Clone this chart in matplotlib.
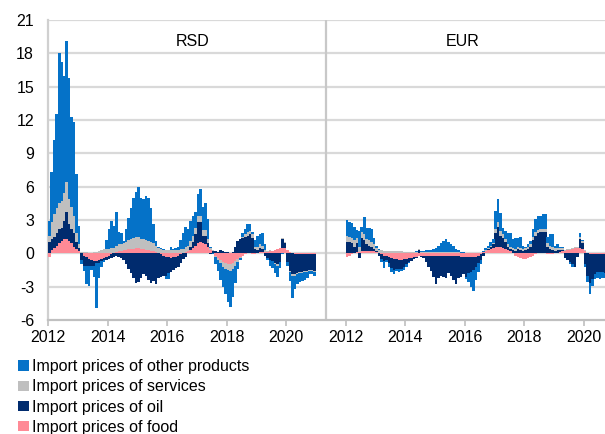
import matplotlib
matplotlib.use("Agg")
import matplotlib.pyplot as plt
import numpy as np
from matplotlib.patches import Patch

plt.rcParams["font.family"] = ["Liberation Sans", "DejaVu Sans"]

# monthly contributions, Jan 2012 onwards (pp)
rsd_food = [
    -0.3, 0.3, 0.5, 0.7, 0.9, 1.1, 1.3, 1.3, 1.1, 0.9, 0.6, 0.4,
    0.2, 0.0, -0.2, -0.3, -0.5, -0.6, -0.7, -0.7, -0.6, -0.5, -0.4, -0.3,
    -0.2, -0.1, 0.0, 0.1, 0.2, 0.2, 0.3, 0.3, 0.4, 0.4, 0.4, 0.5,
    0.5, 0.4, 0.4, 0.3, 0.3, 0.2, 0.2, 0.1, 0.0, -0.1, -0.2, -0.3,
    -0.3, -0.4, -0.3, -0.3, -0.2, -0.1, 0.0, 0.1, 0.2, 0.3, 0.5, 0.7,
    0.9, 1.0, 0.9, 0.8, 0.6, 0.3, 0.0, -0.2, -0.4, -0.6, -0.8, -0.9,
    -1.0, -1.0, -0.9, -0.7, -0.5, -0.3, -0.2, -0.1, 0.0, 0.0, -0.1, -0.1,
    0.0, 0.1, 0.1, 0.1, 0.1, 0.2, 0.2, 0.3, 0.4, 0.5, 0.5, 0.5,
    0.3, 0.1, 0.0, -0.1, -0.1, -0.1, -0.1, -0.1, -0.1, -0.1, -0.1, -0.1,
]
rsd_oil = [
    1.0, 1.0, 1.0, 1.1, 1.3, 1.2, 1.6, 2.4, 1.5, 1.3, 1.2, 0.6,
    0.3, -0.6, -0.9, -0.8, -0.6, -0.5, -0.4, -0.2, -0.3, -0.2, -0.2, -0.3,
    -0.3, -0.3, -0.3, -0.2, -0.3, -0.4, -0.6, -1.0, -1.4, -1.8, -2.2, -2.7,
    -2.6, -2.2, -1.9, -2.0, -2.4, -2.7, -2.5, -2.8, -2.2, -2.0, -1.8, -1.7,
    -1.5, -1.3, -1.2, -1.0, -1.0, -0.8, -0.5, -0.3, 0.0, 0.3, 0.5, 1.0,
    1.9, 1.8, 0.7, 0.8, 0.3, -0.1, 0.2, 0.2, 0.1, 0.3, 0.2, 0.1,
    0.1, 0.0, 0.1, 0.6, 1.1, 1.3, 1.4, 1.5, 1.6, 1.7, 1.4, 0.4,
    0.3, 0.4, 0.3, -0.2, -0.4, -0.6, -0.7, -0.9, -1.0, -0.8, 0.8, 0.4,
    -0.8, -1.6, -1.9, -1.8, -1.7, -1.6, -1.6, -1.5, -1.5, -1.4, -1.4, -1.5,
]
rsd_services = [
    0.6, 1.5, 2.0, 2.3, 2.3, 2.4, 2.5, 2.7, 2.3, 2.0, 1.6, 0.8,
    0.3, 0.1, 0.1, 0.1, 0.0, 0.0, 0.1, 0.1, 0.2, 0.3, 0.4, 0.4,
    0.4, 0.5, 0.5, 0.6, 0.6, 0.6, 0.6, 0.7, 0.8, 0.9, 1.0, 1.0,
    1.0, 0.9, 0.9, 0.9, 0.8, 0.8, 0.7, 0.6, 0.5, 0.4, 0.3, 0.3,
    0.3, 0.3, 0.3, 0.3, 0.3, 0.4, 0.4, 0.5, 0.5, 0.5, 0.6, 0.6,
    0.6, 0.6, 0.5, 0.5, 0.4, 0.2, 0.1, -0.1, -0.2, -0.3, -0.4, -0.5,
    -0.5, -0.6, -0.5, -0.4, -0.3, -0.1, 0.1, 0.2, 0.3, 0.3, 0.3, 0.2,
    0.3, 0.3, 0.3, 0.2, 0.1, 0.1, 0.0, -0.1, -0.1, 0.0, 0.1, 0.1,
    0.0, -0.1, -0.1, -0.1, -0.1, -0.1, -0.1, -0.1, -0.1, -0.1, -0.1, -0.1,
]
rsd_other = [
    1.3, 4.5, 6.7, 8.4, 13.5, 12.5, 10.6, 12.7, 10.9, 8.1, 8.4, 5.3,
    1.7, -0.4, -0.5, -1.7, -1.8, -0.4, -1.0, -4.0, -1.3, -0.5, -0.2, 0.8,
    1.8, 2.4, 2.0, 3.0, 1.1, 1.0, 0.2, 1.2, 2.0, 2.8, 3.6, 4.0,
    4.5, 3.7, 3.6, 4.0, 3.9, 3.1, 1.7, 0.4, 0.1, 0.1, 0.1, -0.3,
    -0.5, 0.3, 0.1, 0.2, 0.3, 0.8, 1.4, 1.8, 1.5, 1.8, 1.8, 1.4,
    1.9, 2.4, 2.1, 2.4, 1.8, 0.1, -0.1, -0.7, -1.0, -1.5, -1.8, -2.3,
    -2.9, -3.2, -2.5, -1.6, -0.6, -0.2, 0.3, 0.5, 0.7, 0.6, 0.2, 0.6,
    1.0, 0.9, 1.1, 0.5, -0.2, -0.5, -0.6, -0.8, -1.0, -0.5, -0.1, 0.0,
    -0.3, -0.8, -2.0, -1.2, -0.9, -0.8, -0.7, -0.7, -0.5, -0.3, -0.3, -0.3,
]

eur_food = [
    -0.3, -0.2, -0.1, 0.0, 0.1, 0.1, 0.2, 0.2, 0.2, 0.2, 0.2, 0.2,
    0.1, 0.0, -0.1, -0.2, -0.2, -0.3, -0.4, -0.5, -0.5, -0.6, -0.6, -0.5,
    -0.5, -0.4, -0.4, -0.3, -0.3, -0.2, -0.2, -0.2, -0.2, -0.2, -0.2, -0.2,
    -0.2, -0.2, -0.2, -0.2, -0.2, -0.2, -0.2, -0.2, -0.2, -0.2, -0.3, -0.3,
    -0.3, -0.3, -0.3, -0.3, -0.3, -0.2, -0.1, 0.1, 0.2, 0.3, 0.4, 0.5,
    0.6, 0.6, 0.6, 0.5, 0.4, 0.3, 0.2, 0.0, -0.2, -0.3, -0.4, -0.5,
    -0.5, -0.4, -0.3, -0.2, -0.1, 0.0, 0.0, 0.0, 0.0, -0.1, -0.1, -0.1,
    0.0, 0.0, 0.1, 0.2, 0.2, 0.3, 0.3, 0.4, 0.5, 0.5, 0.5, 0.4,
    0.2, 0.0, -0.1, -0.1, -0.1, -0.1, -0.1, -0.1, -0.1,
]
eur_oil = [
    1.0, 1.0, 0.9, 0.6, 0.8, -0.4, 1.2, 1.0, 0.6, 0.5, 0.4, 0.2,
    0.1, -0.2, -0.4, -0.5, -0.4, -0.6, -0.9, -1.0, -0.9, -0.8, -0.8, -0.7,
    -0.5, -0.4, -0.3, -0.2, -0.1, 0.3, -0.1, -0.2, -0.6, -1.0, -1.4, -1.9,
    -2.6, -2.0, -1.8, -1.9, -2.0, -1.6, -1.8, -2.2, -2.6, -2.0, -1.8, -1.6,
    -1.8, -1.5, -1.4, -1.2, -0.9, -0.7, -0.5, -0.2, 0.0, 0.1, 0.2, 0.3,
    1.2, 1.8, 1.0, 0.9, 0.6, 0.3, 0.2, 0.3, 0.2, 0.4, 0.3, 0.2,
    0.3, 0.4, 0.6, 1.2, 1.6, 1.8, 1.9, 1.9, 1.9, 0.6, 0.4, 0.3,
    0.2, 0.3, 0.2, 0.1, -0.4, -0.6, -0.8, -1.0, -1.2, -0.3, 0.8, 0.5,
    -1.0, -2.0, -2.6, -2.2, -1.8, -1.6, -1.6, -1.6, -1.7,
]
eur_services = [
    0.6, 0.5, 0.5, 0.6, 0.5, 0.5, 0.5, 0.5, 0.5, 0.5, 0.4, 0.4,
    0.3, 0.3, 0.3, 0.2, 0.2, 0.2, 0.2, 0.2, 0.2, 0.2, 0.2, 0.1,
    0.1, 0.1, 0.1, 0.1, 0.1, 0.1, 0.1, 0.1, 0.1, 0.1, 0.1, 0.1,
    0.1, 0.1, 0.1, 0.1, 0.1, 0.1, 0.1, 0.1, 0.1, 0.1, 0.0, 0.0,
    0.0, 0.0, 0.0, 0.0, 0.0, 0.0, 0.0, 0.0, 0.1, 0.1, 0.1, 0.1,
    0.4, 0.4, 0.4, 0.3, 0.3, 0.2, 0.2, 0.2, 0.2, 0.2, 0.2, 0.2,
    0.2, 0.2, 0.2, 0.3, 0.3, 0.3, 0.3, 0.3, 0.3, 0.3, 0.3, 0.3,
    0.3, 0.2, 0.2, 0.2, 0.1, 0.1, 0.1, 0.1, 0.1, 0.1, 0.2, 0.2,
    0.1, 0.0, 0.0, 0.0, 0.0, 0.0, 0.0, 0.0, 0.0,
]
eur_other = [
    1.4, 1.3, 1.3, 1.2, 0.7, 1.4, 0.5, 1.6, 1.0, 1.1, 1.2, 0.6,
    0.2, 0.1, -0.3, -0.6, -0.2, -0.3, -0.4, -0.4, -0.2, -0.3, -0.2, -0.3,
    -0.2, -0.1, 0.0, 0.0, 0.1, 0.0, 0.1, 0.1, 0.2, 0.2, 0.2, 0.3,
    0.4, 0.6, 0.8, 1.0, 1.2, 0.9, 0.7, 0.6, 0.3, 0.2, 0.1, 0.1,
    -0.2, -0.8, -1.3, -1.9, -1.2, -0.8, -0.4, 0.1, 0.2, 0.2, 0.3, 0.4,
    1.6, 2.1, 1.6, 0.6, 0.7, 1.0, 1.2, 0.8, 1.0, 0.8, 1.0, 0.3,
    0.1, 0.2, 0.3, 0.7, 1.2, 1.3, 1.2, 1.3, 1.3, 0.6, 1.0, 1.1,
    0.2, 0.3, 0.1, 0.1, 0.0, 0.0, -0.2, -0.2, 0.0, 0.0, 0.3, 0.1,
    -0.2, -0.6, -1.0, -0.6, -0.4, -0.5, -0.6, -0.5, -0.4,
]

series_labels = [
    "Import prices of other products",
    "Import prices of services",
    "Import prices of oil",
    "Import prices of food",
]
colors = {
    "food": "#ff8a96",
    "oil": "#002b6e",
    "services": "#bfbfbf",
    "other": "#0572c8",
}

year_labels = ["2012", "2014", "2016", "2018", "2020"]
y_ticks = [-6, -3, 0, 3, 6, 9, 12, 15, 18, 21]

EUR_OFFSET = 120
DIVIDER = 112
X_RIGHT = 224.6


def draw_stack(ax, x0, food, oil, services, other):
    x = x0 + np.arange(len(food))
    pos = np.zeros(len(food))
    neg = np.zeros(len(food))
    for key, vals in (("food", food), ("oil", oil), ("services", services), ("other", other)):
        v = np.asarray(vals, dtype=float)
        bottom = np.where(v >= 0, pos, neg)
        ax.bar(x, v, bottom=bottom, width=1.05, align="edge", color=colors[key],
               linewidth=0, antialiased=False, zorder=3)
        pos += np.clip(v, 0, None)
        neg += np.clip(v, None, 0)


fig = plt.figure(figsize=(6.05, 4.34), dpi=100)
ax = fig.add_axes([48 / 605, 114 / 434, 557 / 605, 300 / 434])

draw_stack(ax, 0, rsd_food, rsd_oil, rsd_services, rsd_other)
draw_stack(ax, EUR_OFFSET, eur_food, eur_oil, eur_services, eur_other)

ax.set_xlim(0, X_RIGHT)
ax.set_ylim(-6, 21)
ax.set_yticks(y_ticks)
ax.set_yticklabels([str(t) for t in y_ticks], fontsize=11.5)
ticks = [24 * i for i in range(5)] + [EUR_OFFSET + 24 * i for i in range(5)]
ax.set_xticks(ticks)
ax.set_xticklabels(year_labels * 2, fontsize=11.5)
ax.tick_params(axis="y", length=0, pad=10)
ax.tick_params(axis="x", length=4, color="#bfbfbf", width=1.2, pad=3)

for t in y_ticks[1:]:
    ax.axhline(t, color="#d9d9d9", linewidth=1.6, zorder=1)
ax.axvline(DIVIDER, color="#c8c8c8", linewidth=1.6, zorder=2)

for side in ("top", "right"):
    ax.spines[side].set_visible(False)
ax.spines["left"].set_color("#d0d0d0")
ax.spines["left"].set_linewidth(1.6)
ax.spines["bottom"].set_color("#c0c0c0")
ax.spines["bottom"].set_linewidth(1.6)

ax.text(58.5, 19.1, "RSD", ha="center", va="center", fontsize=11.5)
ax.text(EUR_OFFSET + 47, 19.1, "EUR", ha="center", va="center", fontsize=11.5)

handles = [
    Patch(facecolor=colors["other"]),
    Patch(facecolor=colors["services"]),
    Patch(facecolor=colors["oil"]),
    Patch(facecolor=colors["food"]),
]
fig.legend(handles, series_labels, loc="upper left", bbox_to_anchor=(0.03, 0.172),
           frameon=False, fontsize=11.5, handlelength=0.65, handleheight=0.65,
           handletextpad=0.2, labelspacing=0.32, borderpad=0, borderaxespad=0)

fig.savefig("out.png", dpi=100)
plt.close(fig)
